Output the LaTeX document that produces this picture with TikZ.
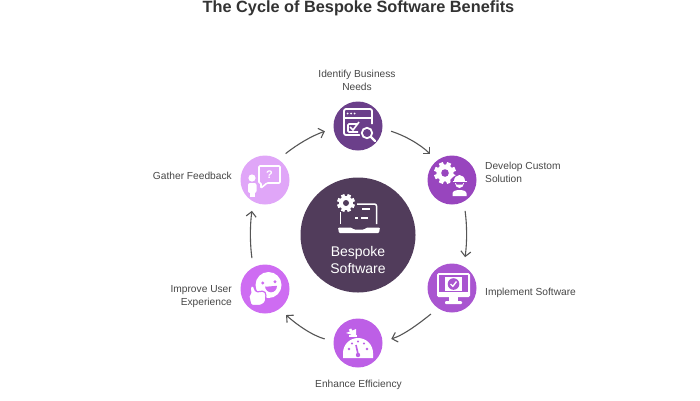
\documentclass[tikz,border=0pt]{standalone}
\usepackage{fontspec}
\setmainfont{Liberation Sans}
\usetikzlibrary{arrows.meta}
\definecolor{cTop}{HTML}{6B3F8A}
\definecolor{cDev}{HTML}{9845BE}
\definecolor{cImp}{HTML}{A955D0}
\definecolor{cEnh}{HTML}{BD5FE6}
\definecolor{cUsr}{HTML}{CE6CF2}
\definecolor{cGat}{HTML}{E0A6F8}
\definecolor{cMid}{HTML}{513C5B}
\definecolor{cTxt}{HTML}{474747}
\definecolor{cArr}{HTML}{555555}
\tikzset{
  stagecirc/.style={circle,minimum size=49pt,inner sep=0pt,outer sep=9pt,fill=#1},
  lab/.style={font=\fontsize{10.2}{13}\selectfont,text=cTxt,inner sep=0pt,align=#1},
  flow/.style={draw=cArr,line width=1.1pt,-{Straight Barb[length=5pt,width=10pt,line width=1.1pt]}},
  wl/.style={draw=white,line width=#1,fill=none},
  wl/.default=1.5pt,
}
\newcommand{\gearicon}[3]{% x y r
  \fill[white] (#1,#2) circle[radius=#3*0.78];
  \foreach \a in {0,45,...,315}{
    \fill[white,shift={(#1,#2)},rotate=\a+22.5] (-#3*0.2,0) rectangle (#3*0.2,#3);
  }
}
\begin{document}
\begin{tikzpicture}[x=1pt,y=-1pt]
\useasboundingbox[fill=white] (0,0) rectangle (700,400);

\node[font=\fontsize{16.3}{18}\bfseries\selectfont,text=black!80,inner sep=0pt,anchor=base] (title) at (358.5,12) {The Cycle of Bespoke Software Benefits};

\node[stagecirc=cTop] (identify) at (358,126) {};
\node[stagecirc=cDev] (develop) at (452,180) {};
\node[stagecirc=cImp] (implement) at (452,288) {};
\node[stagecirc=cEnh] (enhance) at (358,343) {};
\node[stagecirc=cUsr] (improve) at (265,289) {};
\node[stagecirc=cGat] (gather) at (265,180) {};
\node[circle,minimum size=115pt,inner sep=0pt,fill=cMid] (centre) at (358,235) {};

\node[lab=center] (tidentify) at (357,80) {Identify Business\\Needs};
\node[lab=left,anchor=west] (tdevelop) at (485,172) {Develop Custom\\Solution};
\node[lab=left,anchor=west] (timplement) at (485,292.5) {Implement Software};
\node[lab=center] (tenhance) at (358.5,384.5) {Enhance Efficiency};
\node[lab=right,anchor=east] (timprove) at (232,297) {Improve User\\Experience};
\node[lab=right,anchor=east] (tgather) at (232,175.5) {Gather Feedback};

\node[font=\fontsize{14}{17}\selectfont,text=white,inner sep=0pt,align=center] (tcentre) at (358,259.5) {Bespoke\\Software};

% connectors
\draw[flow] (gather.52) .. controls +(12,-9.5) and +(-13,4.5) .. (identify.189);
\draw[flow] (identify.-9) .. controls +(13,4) and +(-10,-10) .. (develop.130);
\draw[flow] (develop.-67) .. controls +(2,15) and +(2,-15) .. (implement.67);
\draw[flow] (implement.-129) .. controls +(-10,8) and +(13,-4) .. (enhance.7);
\draw[flow] (enhance.173) .. controls +(-13,-3.5) and +(10,9) .. (improve.-51);
\draw[flow] (improve.113) .. controls +(-2,-15) and +(-2,15) .. (gather.-113);

% icon: identify
\draw[wl=1.8pt,rounded corners=2pt] (367,135) -- (344,135) -- (344,109) -- (372,109) -- (372,124);
\draw[wl=1.4pt] (344,118) -- (372,118);
\foreach \x in {347.5,351,354.5}{\fill[white] (\x,113.5) circle[radius=1];}
\draw[wl=1.6pt,rounded corners=1pt] (358,124) -- (348,124) -- (348,132) -- (358,132);
\draw[wl=1.6pt] (350,127) -- (353,130) -- (359,122);
\fill[cTop] (367,133) circle[radius=7.5];
\draw[wl=1.8pt] (367,133) circle[radius=5.2];
\draw[wl=2.4pt,line cap=round] (371,137) -- (375,141);

% icon: develop
\gearicon{445}{173}{11}
\fill[cDev] (445,173) circle[radius=3.8];
\fill[cDev] (459.5,184) circle[radius=9.5];
\fill[white] (454,181) arc[start angle=180,end angle=360,x radius=5.5,y radius=6] -- cycle;
\draw[wl=1.1pt] (452.5,181.5) -- (466.5,181.5);
\fill[white] (455,183) arc[start angle=180,end angle=0,x radius=4.5,y radius=5] -- cycle;
\fill[cDev] (456,183) -- (463,183) -- (462.5,184.5) -- (456.5,184.5) -- cycle;
\fill[white] (452.5,196) -- (452.5,193.5) .. controls (452.5,191) and (456,190) .. (459.5,190) .. controls (463,190) and (466.5,191) .. (466.5,193.5) -- (466.5,196) -- cycle;

% icon: implement
\fill[white,rounded corners=1.5pt] (437,273) rectangle (470,297);
\fill[cImp] (439,275) rectangle (468,292);
\fill[white] (445,277) rectangle (462,291);
\fill[cImp] (453.5,284) circle[radius=5.8];
\draw[wl=1.4pt] (450.5,284) -- (452.8,286.3) -- (456.5,281.5);
\fill[white] (449,297) rectangle (458,302);
\fill[white,rounded corners=1pt] (445,301) rectangle (462,304);

% icon: enhance
\fill[white] (343,358) -- (343,353) arc[start angle=180,end angle=360,radius=15] -- (373,358) -- cycle;
\fill[cEnh] (349,349) circle[radius=1.4];
\fill[cEnh] (352,343.5) circle[radius=1.2];
\fill[cEnh] (358,341.5) circle[radius=1.2];
\fill[cEnh] (364,343.5) circle[radius=1.2];
\fill[cEnh] (367,349) circle[radius=1.4];
\draw[cEnh,line width=1.6pt] (358,354) -- (356,345);
\fill[cEnh] (358,355) circle[radius=2.2];
\draw[wl=2.5pt] (353,335) -- (350,329);
\fill[white] (346,333) -- (356,329) -- (356,336) -- cycle;
\fill[white] (349,335) rectangle (357,337);

% icon: improve
\fill[white] (268.5,285) circle[radius=13];
\fill[cUsr] (262.7,283) circle[radius=1.6];
\fill[cUsr] (275,281.7) circle[radius=1.6];
\fill[cUsr] (265,286.8) -- (277,285.8) arc[start angle=0,end angle=180,x radius=6,y radius=6.5] -- cycle;
\fill[white,draw=cUsr,line width=1.2pt,rounded corners=1.5pt] (251,305.5) -- (248.5,295) -- (251,294) -- (250,287) -- (253,285) -- (256,292) -- (264,291) -- (266,294) -- (265.5,302) -- (261,305.5) -- cycle;

% icon: gather
\draw[wl=1.6pt,rounded corners=1pt] (259,166) -- (280,166) -- (280,183) -- (267,183) -- (261,188) -- (261,183) -- (259,183) -- cycle;
\node[font=\fontsize{11}{11}\bfseries\selectfont,text=white,inner sep=0pt] (qmark) at (269.5,174.5) {?};
\fill[white] (252,178) circle[radius=3.6];
\fill[white,rounded corners=2pt] (248,183) rectangle (256.5,193);
\fill[white] (249.5,190) rectangle (255,197);

% icon: centre
\draw[wl=1.5pt,rounded corners=2pt] (357,204) -- (376.5,204) -- (376.5,224);
\draw[wl=1.5pt] (340.5,212) -- (340.5,224);
\draw[wl=1.4pt] (362,209) -- (370,209);
\draw[wl=1.4pt] (355,218) -- (358,218) (361,218) -- (368,218);
\gearicon{346}{203}{9}
\fill[cMid] (346,203) circle[radius=3];
\fill[white,rounded corners=1pt] (338,227.5) -- (351,227.5) -- (354,229.5) -- (364,229.5) -- (367,227.5) -- (380,227.5) -- (379,233) -- (339,233) -- cycle;
\end{tikzpicture}
\end{document}
